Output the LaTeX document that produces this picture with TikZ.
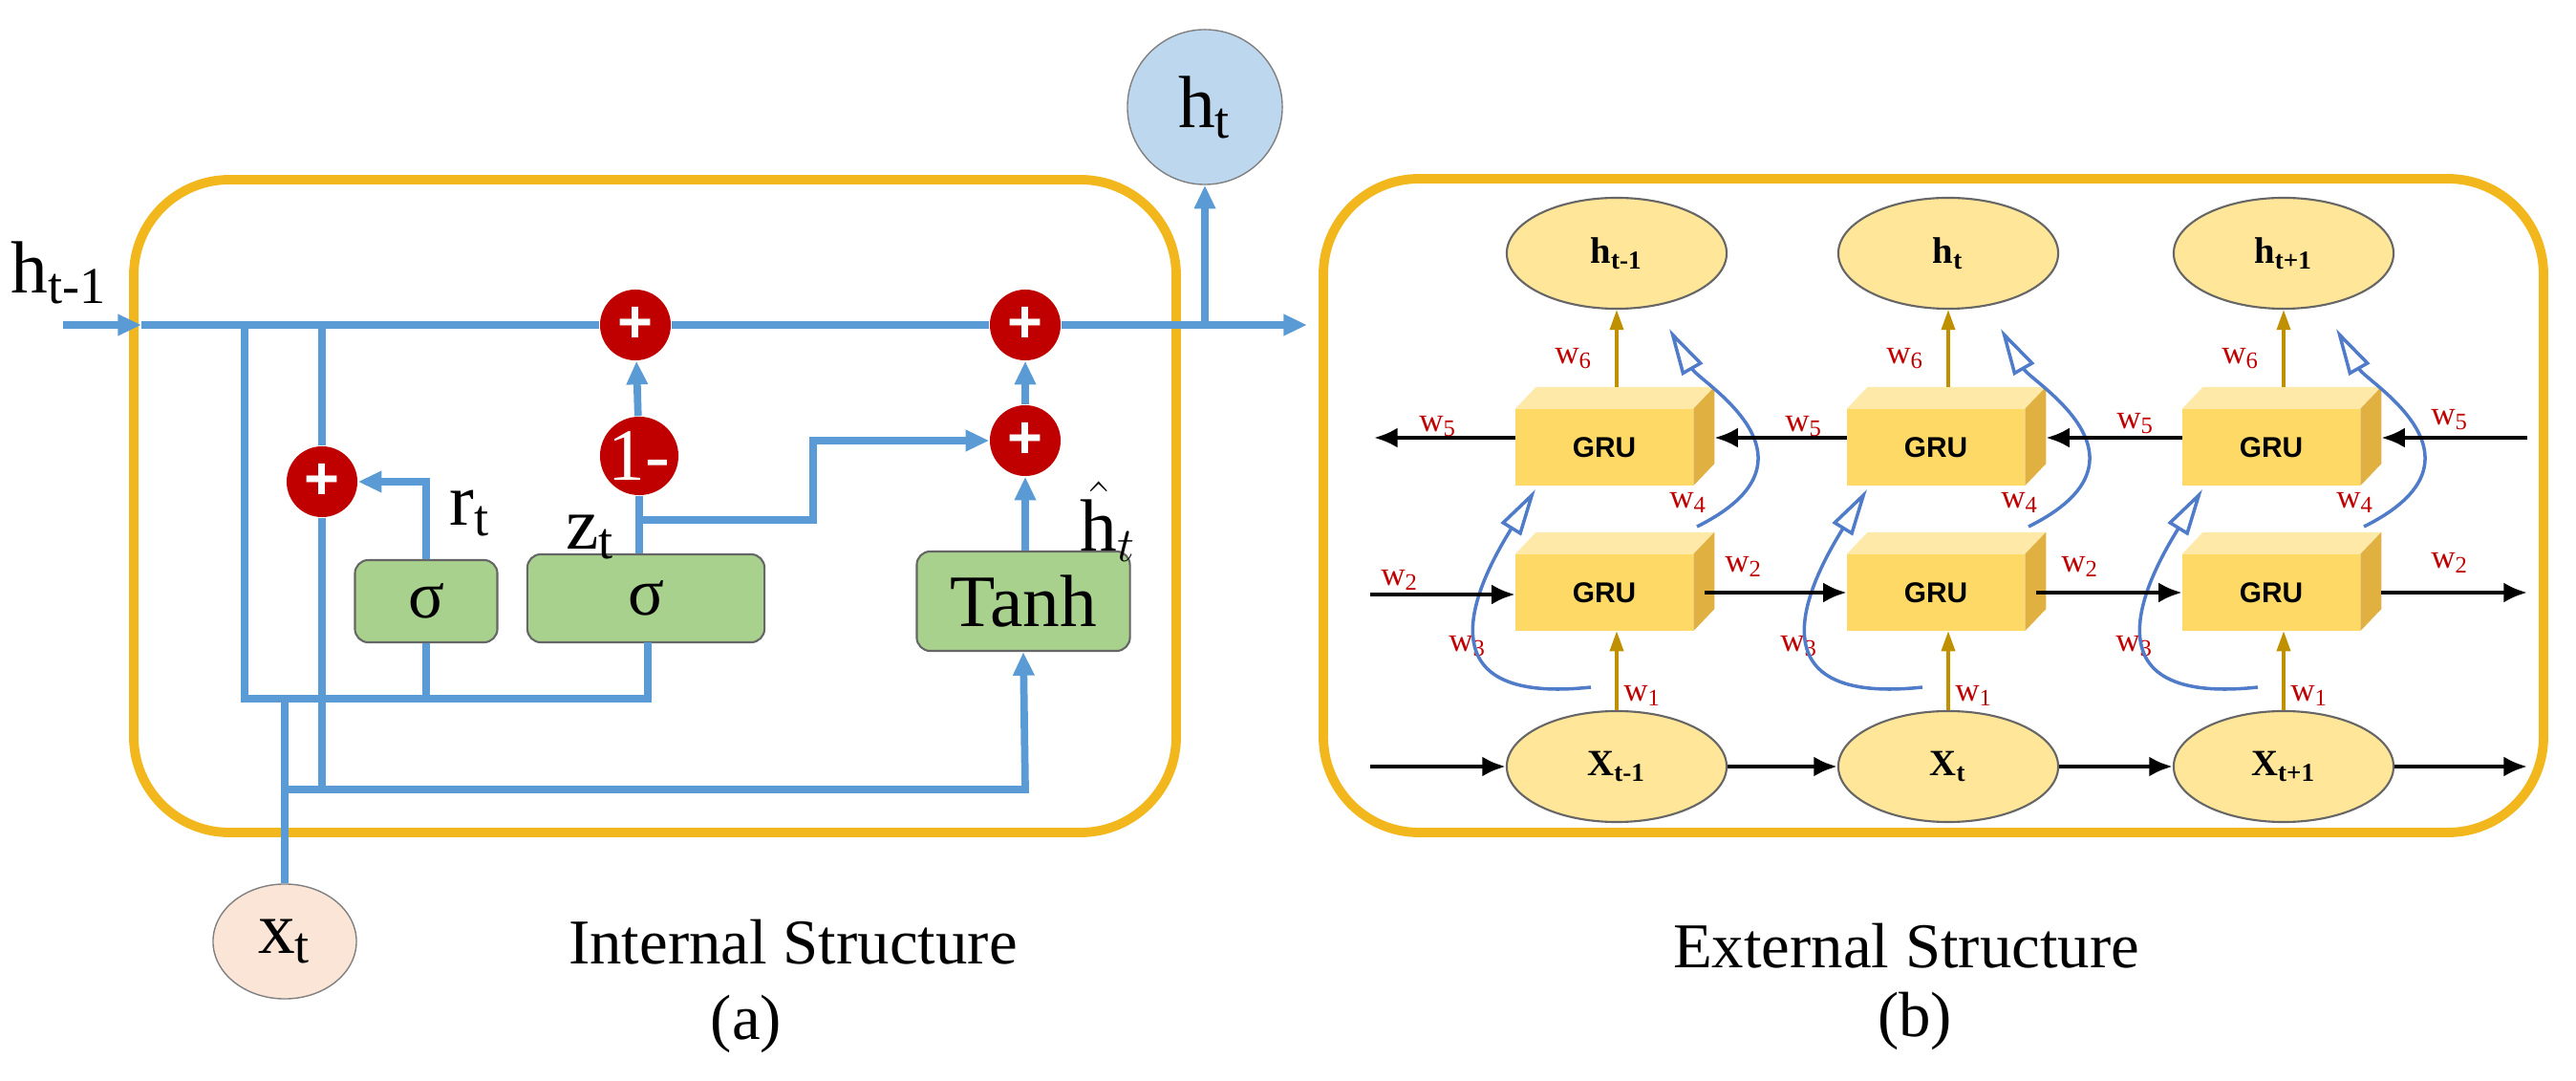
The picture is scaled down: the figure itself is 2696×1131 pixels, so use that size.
\documentclass[tikz,border=0pt]{standalone}
\usepackage{fontspec}
\setmainfont{Liberation Serif}
\newfontfamily\sansf{Liberation Sans}
\usetikzlibrary{arrows.meta,calc,shapes.geometric}
\definecolor{frameC}{HTML}{F2B71C}
\definecolor{lineC}{HTML}{5B9BD5}
\definecolor{redC}{HTML}{C00000}
\definecolor{greenC}{HTML}{A9D18E}
\definecolor{htC}{HTML}{BDD7EE}
\definecolor{xtC}{HTML}{FBE5D6}
\definecolor{yelF}{HTML}{FFD966}
\definecolor{yelT}{HTML}{FFE9A8}
\definecolor{yelR}{HTML}{E0B040}
\definecolor{ellC}{HTML}{FFE699}
\definecolor{goldC}{HTML}{BF9000}
\definecolor{curveC}{HTML}{4F7BC8}
\newcommand\grubox[3]{%
  \node[gru] (#1) at (#2,#3) {GRU};
  \fill[yelT] (#1.north west) -- ++(22,-23) -- ($(#1.north east)+(22,-23)$) -- (#1.north east) -- cycle;
  \fill[yelR] (#1.north east) -- ++(22,-23) -- ($(#1.south east)+(22,-23)$) -- (#1.south east) -- cycle;
}
\begin{document}
\begin{tikzpicture}[x=0.01cm,y=-0.01cm,
  frame/.style={draw=frameC,line width=2.8pt,rounded corners=1cm},
  bl/.style={draw=lineC,line width=2.2pt},
  ba/.style={bl,-{Triangle[length=7pt,width=6pt]}},
  plus/.style={circle,fill=redC,minimum size=0.74cm,inner sep=0pt,text=white,font=\sansf\bfseries\fontsize{18}{18}\selectfont},
  gbox/.style={draw=black!60,fill=greenC,rounded corners=4pt,line width=0.6pt,font=\fontsize{20}{22}\selectfont},
  lab/.style={font=\fontsize{22}{24}\selectfont},
  gru/.style={fill=yelF,minimum width=1.85cm,minimum height=0.79cm,inner sep=0pt,font=\sansf\bfseries\fontsize{8.5}{9}\selectfont},
  ell/.style={ellipse,draw=black!60,fill=ellC,line width=0.6pt,minimum width=2.3cm,minimum height=1.16cm,font=\bfseries\fontsize{11}{12}\selectfont},
  ka/.style={draw=black,line width=1.3pt,-{Latex[length=7pt,width=6pt]}},
  ga/.style={draw=goldC,line width=1pt,-{Triangle[length=6pt,width=4pt]}},
  cu/.style={draw=curveC,line width=1pt,-{Triangle[open,length=14pt,width=7pt]}},
  wl/.style={text=redC,font=\fontsize{10}{11}\selectfont,inner sep=0pt}]
\useasboundingbox (0,0) rectangle (2696,1131);
% frames
\draw[frame] (140,188) rectangle (1231,871);
\draw[frame] (1385,187) rectangle (2662,871);
% ---------- internal structure ----------
\node[plus] (pA) at (665,340) {+};
\node[plus] (pB) at (1073,340) {+};
\node[plus] (pC) at (1073,461) {+};
\node[plus] (pD) at (337,504) {+};
\node[plus,font=\fontsize{22}{22}\selectfont] (om) at (669,477) {1-};
\node[gbox,minimum width=1.49cm,minimum height=0.86cm] (s1) at (446,629) {σ};
\node[gbox,minimum width=2.48cm,minimum height=0.92cm] (s2) at (676,626) {σ};
\node[gbox,minimum width=2.23cm,minimum height=1.04cm,font=\fontsize{22}{24}\selectfont] (th) at (1071,629) {Tanh};
\node[circle,draw=black!50,fill=htC,minimum size=1.62cm,inner sep=0pt,lab] (ht) at (1261,112) {h\textsubscript{t}};
\node[ellipse,draw=black!50,fill=xtC,minimum width=1.5cm,minimum height=1.2cm,inner sep=0pt,lab] (xt) at (298,985) {x\textsubscript{t}};
\node[lab] at (62,285) {h\textsubscript{t-1}};
\node[lab] at (492,537) {r\textsubscript{t}};
\node[lab] at (618,562) {z\textsubscript{t}};
\node[lab] at (1160,546) {$\hat{\mathrm{h}}_t$};
\coordinate (hin) at (66,340);
\coordinate (hmid) at (148,340);
\coordinate (hout) at (1368,340);
\coordinate (br) at (1261,340);
\coordinate (s2b) at (678,672);
\draw[ba] (hin) -- (hmid);
\draw[bl] (hmid) -- (pA);
\draw[bl] (pA) -- (pB);
\draw[ba] (pB) -- (hout);
\draw[ba] (br) -- (ht);
\draw[bl] (256,340) -- (256,731) -- (678,731) -- (s2b);
\draw[bl] (s1.south) -- (446,731);
\draw[bl] (337,340) -- (pD);
\draw[bl] (pD) -- (337,826);
\draw[ba] (298,826) -- (1073,826) -- (th.south);
\draw[bl] (xt.north) -- (298,731);
\draw[ba] (s1.north) -- (446,504) -- (pD);
\draw[bl] (s2.north -| om) -- (om);
\draw[ba] (om) -- (pA);
\draw[ba] (669,544) -- (851,544) -- (851,461) -- (pC);
\draw[ba] (th.north -| pC) -- (pC);
\draw[ba] (pC) -- (pB);
\node[font=\fontsize{19}{22}\selectfont] at (830,986) {Internal Structure};
\node[font=\fontsize{19}{22}\selectfont] at (781,1071) {(a)};
% ---------- external structure ----------
\foreach \i/\cx/\hl/\xl in {1/1679/{h\textsubscript{t-1}}/{X\textsubscript{t-1}},2/2026/{h\textsubscript{t}}/{X\textsubscript{t}},3/2377/{h\textsubscript{t+1}}/{X\textsubscript{t+1}}}{
  \grubox{u\i}{\cx}{468}
  \grubox{l\i}{\cx}{620}
  \node[ell] (h\i) at (\cx+13,265) {\hl};
  \node[ell] (x\i) at (\cx+13,802) {\xl};
  \draw[ga] (x\i) -- (x\i |- l\i.south);
  \draw[ga] ($(x\i |- u\i.north)+(0,-23)$) -- (h\i);
  \node[wl] at (\cx+40,728) {w\textsubscript{1}};
  \node[wl] at (\cx-32,375) {w\textsubscript{6}};
  \node[wl] at (\cx-143,676) {w\textsubscript{3}};
  \node[wl] at (\cx+88,526) {w\textsubscript{4}};
  \draw[cu] (\cx-14,719) .. controls (\cx-210,740) and (\cx-120,590) .. (\cx-72,512);
  \draw[cu] (\cx+97,551) .. controls (\cx+240,480) and (\cx+100,400) .. (\cx+68,344);
}
% upper row (leftward)
\coordinate (ur) at (2645,458);
\coordinate (ul) at (1438,458);
\draw[ka] (ur) -- ($(u3.east)+(22,-10)$);
\draw[ka] (u3.west |- ur) -- ($(u2.east)+(22,-10)$);
\draw[ka] (u2.west |- ur) -- ($(u1.east)+(22,-10)$);
\draw[ka] (u1.west |- ur) -- (ul);
\node[wl] at (1505,446) {w\textsubscript{5}};
\node[wl] at (1888,446) {w\textsubscript{5}};
\node[wl] at (2235,443) {w\textsubscript{5}};
\node[wl] at (2564,439) {w\textsubscript{5}};
% lower row (rightward)
\coordinate (ll) at (1434,622);
\coordinate (lr) at (2645,620);
\draw[ka] (ll) -- (l1.west |- ll);
\draw[ka] ($(l1.east)+(12,0)$) -- (l2.west);
\draw[ka] ($(l2.east)+(12,0)$) -- (l3.west);
\draw[ka] ($(l3.east)+(22,0)$) -- (lr);
\node[wl] at (1465,607) {w\textsubscript{2}};
\node[wl] at (1825,593) {w\textsubscript{2}};
\node[wl] at (2177,593) {w\textsubscript{2}};
\node[wl] at (2564,589) {w\textsubscript{2}};
% bottom row
\coordinate (bl0) at (1434,802);
\coordinate (br0) at (2645,802);
\draw[ka] (bl0) -- (x1);
\draw[ka] (x1) -- (x2);
\draw[ka] (x2) -- (x3);
\draw[ka] (x3) -- (br0);
\node[font=\fontsize{19}{22}\selectfont] at (1995,990) {External Structure};
\node[font=\fontsize{19}{22}\selectfont] at (2004,1068) {(b)};
\end{tikzpicture}
\end{document}
